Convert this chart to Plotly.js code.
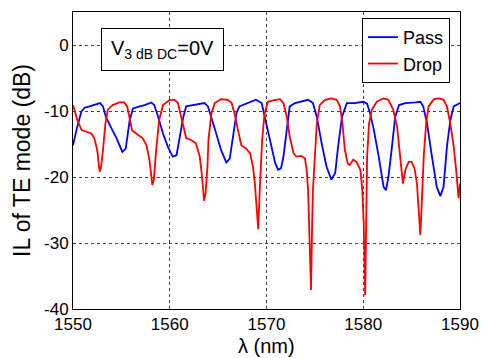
<!DOCTYPE html>
<html>
<head>
<meta charset="utf-8">
<script src="https://cdn.plot.ly/plotly-3.0.1.min.js"></script>
<style>html,body{margin:0;padding:0;background:#fff;}#chart{width:483px;height:358px;}</style>
</head>
<body>
<div id="chart"></div>
<script>
const passX = [1550,1550.35,1550.86,1551.2,1551.7,1552.2,1552.8,1553.1,1553.4,1553.96,1554.5,1555.1,1555.45,1555.86,1556.2,1556.9,1557.4,1558.1,1558.4,1558.8,1559.3,1559.8,1560.3,1560.7,1561.0,1561.4,1561.7,1562.4,1563.3,1563.6,1563.95,1564.3,1564.8,1565.3,1565.85,1566.2,1566.5,1566.9,1567.2,1568.1,1568.9,1569.5,1569.85,1570.2,1570.55,1570.9,1571.2,1571.5,1571.75,1572.1,1572.4,1572.95,1573.6,1574.3,1574.8,1575.2,1575.7,1576.2,1576.7,1577.1,1577.4,1577.8,1578.3,1579.1,1580.0,1580.4,1580.7,1581.1,1581.6,1582.1,1582.35,1582.6,1582.97,1583.3,1583.7,1584.35,1585.4,1585.9,1586.2,1586.6,1587.1,1587.6,1587.97,1588.3,1588.65,1589.0,1589.35,1589.9,1590];
const passY = [-15.2,-12.9,-10.1,-9.5,-9.3,-9.1,-8.8,-9.3,-10.9,-12.6,-14.1,-16.2,-15.7,-11.4,-9.6,-9.3,-9.1,-8.7,-9.1,-10.9,-13.4,-15.4,-16.9,-16.7,-14.4,-10.9,-9.3,-9.1,-8.8,-8.8,-9.3,-10.9,-13.4,-15.9,-17.8,-17.2,-14.4,-10.3,-9.3,-8.8,-8.3,-8.8,-11.1,-13.4,-15.9,-17.9,-18.9,-18.7,-16.9,-12.4,-9.3,-8.8,-8.6,-8.3,-8.8,-10.9,-14.9,-18.4,-20.4,-19.4,-15.4,-10.9,-8.8,-8.8,-8.6,-8.9,-10.3,-12.9,-16.9,-21.5,-22.0,-20.0,-15.4,-10.9,-9.1,-8.8,-8.7,-8.6,-9.3,-11.9,-16.9,-21.5,-22.9,-21.5,-15.4,-11.4,-9.3,-8.8,-8.8];

const dropX = [1550,1550.5,1550.9,1551.4,1551.9,1552.2,1552.5,1552.75,1552.9,1553.1,1553.35,1553.6,1554.1,1554.8,1555.3,1555.6,1555.86,1556.1,1556.7,1557.2,1557.6,1557.9,1558.2,1558.35,1558.6,1558.9,1559.3,1560.0,1560.5,1560.85,1561.1,1561.4,1561.7,1562.2,1562.7,1563.1,1563.3,1563.55,1563.7,1563.9,1564.0,1564.3,1564.65,1565.3,1566.0,1566.4,1566.7,1567.05,1567.4,1567.9,1568.3,1568.6,1568.8,1569.0,1569.15,1569.3,1569.55,1569.8,1570.15,1570.9,1571.4,1571.75,1572.1,1572.4,1572.8,1573.1,1573.6,1573.98,1574.15,1574.3,1574.45,1574.6,1574.7,1574.8,1575.0,1575.2,1575.5,1576.05,1576.7,1577.25,1577.6,1577.85,1578.1,1578.4,1578.6,1578.97,1579.3,1579.7,1579.9,1580.05,1580.2,1580.3,1580.4,1580.6,1580.9,1581.4,1582.1,1582.6,1583.1,1583.5,1583.8,1584.1,1584.35,1584.7,1585.0,1585.3,1585.55,1585.75,1585.9,1586.05,1586.25,1586.5,1586.75,1587.3,1587.8,1588.3,1588.65,1589.0,1589.35,1589.6,1589.85,1590];
const dropY = [-9.1,-11.6,-12.9,-13.1,-13.4,-14.1,-15.9,-19.2,-18.5,-15.9,-11.9,-9.8,-9.1,-8.7,-8.7,-9.3,-11.4,-12.9,-13.6,-14.1,-15.2,-17.4,-21.2,-20.5,-15.9,-11.4,-9.1,-8.3,-8.3,-8.8,-10.4,-12.4,-14.1,-14.4,-14.9,-16.9,-19.4,-23.6,-22.5,-18.4,-14.4,-10.4,-8.8,-8.2,-8.3,-8.8,-10.4,-12.9,-15.2,-15.7,-16.4,-18.4,-21.0,-25,-27.9,-22,-14.4,-10.4,-8.6,-8.3,-8.2,-8.8,-10.9,-13.9,-16.4,-16.9,-16.8,-17.2,-18.9,-22,-28,-37.1,-28.5,-22,-16.9,-11.9,-9.1,-8.3,-8.1,-8.3,-9.3,-11.9,-15.9,-18.0,-18.2,-17.4,-17.7,-18.9,-22,-27,-37.9,-26,-16.9,-11.9,-9.8,-8.6,-8.1,-8.3,-9.8,-12.4,-16.9,-21.0,-18.9,-17.7,-17.7,-18.7,-21.0,-25,-28.8,-24,-16.9,-11.9,-9.3,-8.2,-8.1,-8.3,-9.3,-11.9,-15.4,-18.9,-23.2,-21];

const xTicks = [1550,1560,1570,1580,1590];
const yTicks = [-40,-30,-20,-10,0];
const xTitle = 'λ (nm)';
const yTitle = 'IL of TE mode (dB)';

const font = "Liberation Sans, Arial, sans-serif";

Plotly.newPlot('chart', [
  {x: passX, y: passY, type: 'scatter', mode: 'lines', name: 'Pass', line: {color: '#0000ff', width: 1.8}},
  {x: dropX, y: dropY, type: 'scatter', mode: 'lines', name: 'Drop', line: {color: '#ff0000', width: 1.8}}
], {
  width: 483, height: 358,
  margin: {l: 73, r: 23, t: 12, b: 49},
  paper_bgcolor: '#fff', plot_bgcolor: '#fff',
  font: {family: font, color: '#000', size: 18},
  xaxis: {
    range: [1550, 1590], tickvals: xTicks, ticktext: xTicks.map(String),
    showgrid: true, gridcolor: '#444', griddash: '3px,3px', gridwidth: 1,
    showline: true, linecolor: '#000', linewidth: 1, mirror: true,
    zeroline: false, ticks: '', tickfont: {size: 17}
  },
  yaxis: {
    range: [-40, 5], tickvals: yTicks, ticktext: yTicks.map(String),
    showgrid: true, gridcolor: '#444', griddash: '3px,3px', gridwidth: 1,
    showline: true, linecolor: '#000', linewidth: 1, mirror: true,
    zeroline: false, ticks: '', tickfont: {size: 17},
    title: {text: yTitle, font: {size: 23}, standoff: 6}
  },
  showlegend: true,
  legend: {
    x: 0.974, xanchor: 'right', y: 0.98, yanchor: 'top',
    bordercolor: '#000', borderwidth: 1, bgcolor: '#fff',
    font: {size: 18}
  },
  annotations: [{
    xref: 'paper', yref: 'paper', x: 0.231, y: 0.874,
    xanchor: 'center', yanchor: 'middle', showarrow: false,
    text: 'V<sub>3 dB DC</sub>=0V', font: {size: 20},
    bordercolor: '#000', borderwidth: 1, borderpad: 2, bgcolor: '#fff',
    width: 117, height: 37
  }, {
    xref: 'paper', yref: 'paper', x: 0.5, y: -0.126,
    xanchor: 'center', yanchor: 'middle', showarrow: false,
    text: xTitle, font: {size: 20}, borderpad: 0
  }]
}, {displayModeBar: false, staticPlot: true});
</script>
</body>
</html>
